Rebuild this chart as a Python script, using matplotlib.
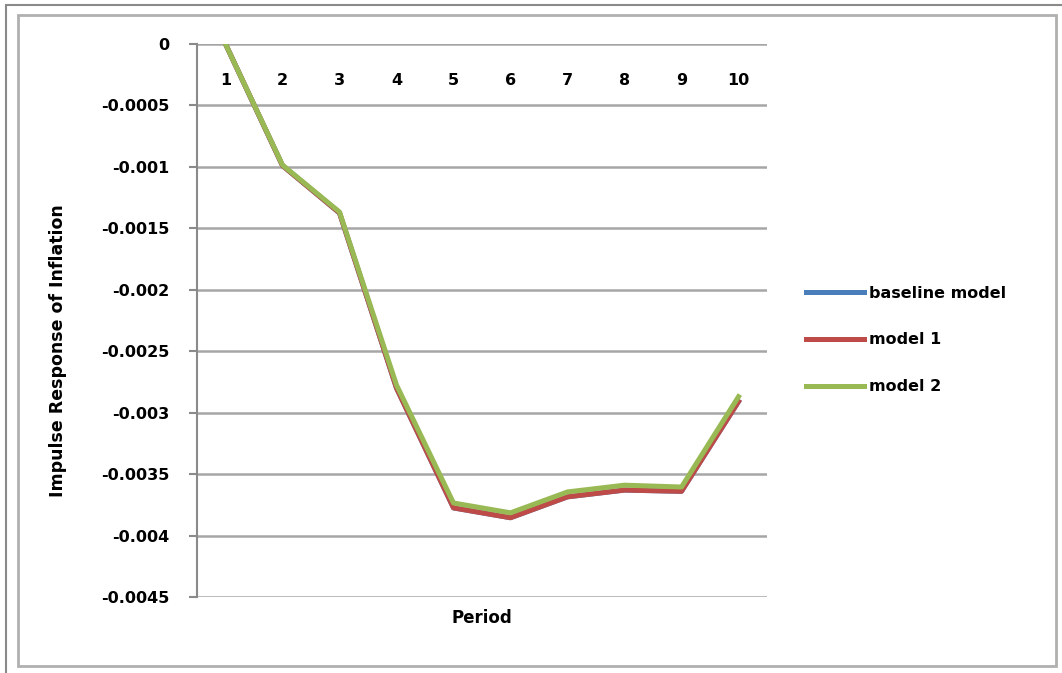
import matplotlib
matplotlib.use("Agg")
import matplotlib.pyplot as plt
from matplotlib.patches import Rectangle

# impulse responses of inflation over 10 periods
periods = [1, 2, 3, 4, 5, 6, 7, 8, 9, 10]
baseline_model = [0, -0.00099, -0.001375, -0.0028, -0.003775, -0.003855, -0.003685, -0.00363, -0.00364, -0.00291]
model_1 = [0, -0.00099, -0.001375, -0.0028, -0.003775, -0.003855, -0.003685, -0.00363, -0.00364, -0.00291]
model_2 = [0, -0.000985, -0.001367, -0.002775, -0.003735, -0.003815, -0.003645, -0.00359, -0.003605, -0.00287]
y_ticks = [0, -0.0005, -0.001, -0.0015, -0.002, -0.0025, -0.003, -0.0035, -0.004, -0.0045]
y_tick_labels = ["0", "-0.0005", "-0.001", "-0.0015", "-0.002", "-0.0025", "-0.003", "-0.0035", "-0.004", "-0.0045"]

W, H = 1062, 673
fig = plt.figure(figsize=(W / 100, H / 100), dpi=100)
fig.patch.set_facecolor("white")

# chart frames
fig.add_artist(Rectangle((6 / W, -10 / H), 1070 / W, (H + 5) / H, transform=fig.transFigure,
                         fill=False, edgecolor="#8a8a8a", linewidth=1.5))
fig.add_artist(Rectangle((18 / W, 1 - 666 / H), 1038 / W, 651 / H, transform=fig.transFigure,
                         fill=False, edgecolor="#b0b0b0", linewidth=2.0))

ax = fig.add_axes([197 / W, 1 - 597 / H, 570 / W, 553 / H])
ax.set_xlim(0.5, 10.5)
ax.set_ylim(-0.0045, 0)

ax.plot(periods, baseline_model, color="#4a7ebb", linewidth=3.6, solid_joinstyle="round", label="baseline model")
ax.plot(periods, model_1, color="#be4b48", linewidth=3.6, solid_joinstyle="round", label="model 1")
ax.plot(periods, model_2, color="#98b954", linewidth=3.6, solid_joinstyle="round", label="model 2")

ax.set_yticks(y_ticks)
ax.set_yticklabels(y_tick_labels, fontsize=11.5, fontweight="bold")
ax.tick_params(axis="y", length=6, width=1.5, color="#8a8a8a", pad=14)
ax.set_xticks([])
ax.yaxis.grid(True, color="#a6a6a6", linewidth=1.8)
ax.set_axisbelow(True)
for side in ["top", "right", "bottom"]:
    ax.spines[side].set_visible(False)
ax.spines["left"].set_color("#8a8a8a")
ax.spines["left"].set_linewidth(1.5)

# category labels sit just under the zero line
for p in periods:
    ax.text(p, -0.000293, str(p), ha="center", va="center", fontsize=11.5, fontweight="bold")

fig.text(482 / W, 1 - 618 / H, "Period", ha="center", va="center", fontsize=12, fontweight="bold")
fig.text(58 / W, 1 - 351 / H, "Impulse Response of Inflation", ha="center", va="center",
         rotation=90, fontsize=12.5, fontweight="bold")

leg = ax.legend(loc="center left", bbox_to_anchor=(800 / W, 1 - 340 / H), bbox_transform=fig.transFigure,
                frameon=False, prop={"size": 11.5, "weight": "bold"}, handlelength=3.6,
                handletextpad=0.3, labelspacing=2.0, borderaxespad=0)

fig.savefig("out.png", dpi=100)
